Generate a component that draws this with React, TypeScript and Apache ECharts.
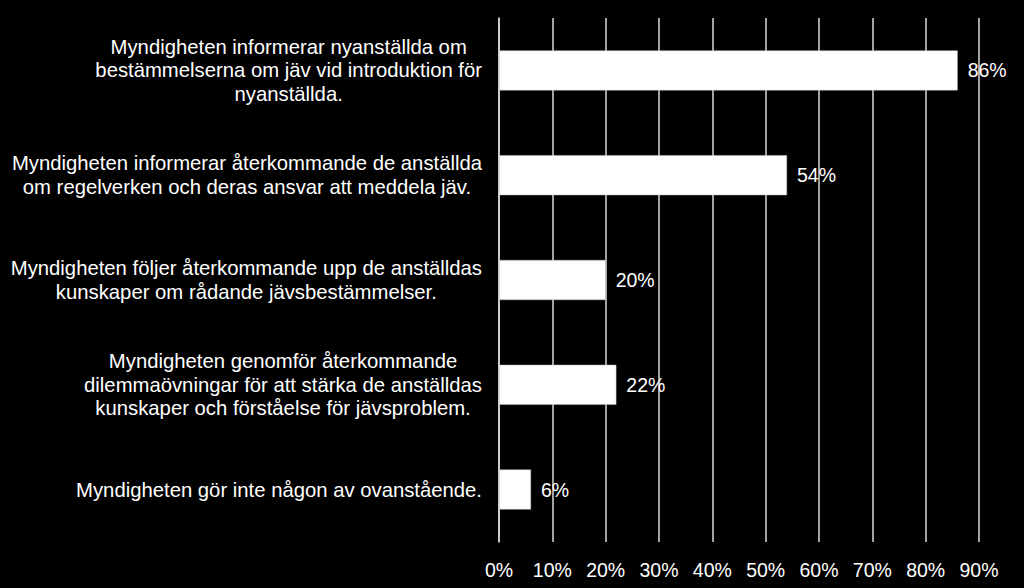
import React, { useRef, useEffect } from "react";
import * as echarts from "echarts";

const categories = [
  "Myndigheten informerar nyanställda om\nbestämmelserna om jäv vid introduktion för\nnyanställda.",
  "Myndigheten informerar återkommande de anställda\nom regelverken och deras ansvar att meddela jäv.",
  "Myndigheten följer återkommande upp de anställdas\nkunskaper om rådande jävsbestämmelser.",
  "Myndigheten genomför återkommande\ndilemmaövningar för att stärka de anställdas\nkunskaper och förståelse för jävsproblem.",
  "Myndigheten gör inte någon av ovanstående.",
];
const values = [86, 54, 20, 22, 6];
const axisMax = 90;
const axisStep = 10;

const font = '"Liberation Sans", Arial, sans-serif';

const App = function () {
  const chart = useRef<HTMLDivElement>(null);
  useEffect(() => {
    if (!chart.current) return;
    const myChart = echarts.init(chart.current, null, { renderer: "svg" });
    const option = {
      animation: false,
      backgroundColor: "#000",
      grid: {
        left: 499,
        right: 45,
        top: 18,
        bottom: 46,
      },
      xAxis: {
        type: "value",
        min: 0,
        max: axisMax,
        interval: axisStep,
        axisLine: { show: false },
        axisTick: { show: false },
        splitLine: { lineStyle: { color: "#d9d9d9", width: 1.5 } },
        axisLabel: {
          formatter: "{value}%",
          color: "#fff",
          fontFamily: font,
          fontSize: 19.5,
          margin: 18,
        },
      },
      yAxis: {
        type: "category",
        inverse: true,
        data: categories,
        axisLine: { lineStyle: { color: "#d9d9d9", width: 1.5 } },
        axisTick: { length: 6, lineStyle: { color: "#d9d9d9", width: 1.5 } },
        axisLabel: {
          margin: 17,
          formatter: (v: string) =>
            v
              .split("\n")
              .map((l) => `{c|${l}}`)
              .join("\n"),
          rich: {
            c: {
              align: "center",
              color: "#fff",
              fontFamily: font,
              fontSize: 20.3,
              lineHeight: 23.5,
            },
          },
        },
      },
      series: [
        {
          type: "bar",
          data: values,
          barWidth: 40,
          itemStyle: { color: "#fff", borderColor: "#bfbfbf", borderWidth: 0.5 },
          label: {
            show: true,
            position: "right",
            distance: 10,
            formatter: "{c}%",
            color: "#fff",
            fontFamily: font,
            fontSize: 19.5,
          },
        },
      ],
    };
    myChart.setOption(option);
    return () => {
      myChart.dispose();
    };
  }, []);
  return (
    <div
      ref={chart}
      style={{
        position: "fixed",
        left: 0,
        top: 0,
        width: 1024,
        height: 588,
        background: "#000",
      }}
    ></div>
  );
};
export default App;
